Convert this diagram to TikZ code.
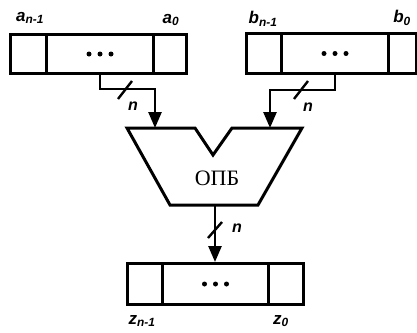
\documentclass[tikz,border=0pt]{standalone}
\usepackage{fontspec}
\setmainfont{Liberation Serif}
\setsansfont{Liberation Sans}
\usetikzlibrary{arrows.meta}
\begin{document}
\begin{tikzpicture}[x=1pt,y=-1pt,
  cell/.style={draw,line width=3pt,inner sep=0pt,anchor=north west},
  wire/.style={line width=2.6pt},
  arr/.style={wire,-{Triangle[width=13pt,length=16pt]}},
  slash/.style={line width=2.4pt},
  lbl/.style={font=\sffamily\bfseries\itshape\fontsize{17}{17}\selectfont,inner sep=0pt},
  nlbl/.style={font=\sffamily\bfseries\itshape\fontsize{16}{16}\selectfont,inner sep=0pt},
  dot/.style={fill,circle,inner sep=0pt,minimum size=5pt}]
\useasboundingbox (0,0) rectangle (417,332);
% register A
\node[cell,minimum width=36pt,minimum height=39pt] (A1) at (9,33) {};
\node[cell,minimum width=107pt,minimum height=39pt] (A2) at (45,33) {};
\node[cell,minimum width=33pt,minimum height=39pt] (A3) at (152,33) {};
\node[dot] (Ad1) at ([xshift=-11pt]A2.center) {};
\node[dot] (Ad2) at (A2.center) {};
\node[dot] (Ad3) at ([xshift=11pt]A2.center) {};
\node[lbl] (la1) at (30,18) {a\textsubscript{n-1}};
\node[lbl] (la0) at (171,20) {a\textsubscript{0}};
% register B
\node[cell,minimum width=35pt,minimum height=40pt] (B1) at (245,32) {};
\node[cell,minimum width=107pt,minimum height=40pt] (B2) at (280,32) {};
\node[cell,minimum width=28pt,minimum height=40pt] (B3) at (387,32) {};
\node[dot] (Bd1) at ([xshift=-11pt]B2.center) {};
\node[dot] (Bd2) at (B2.center) {};
\node[dot] (Bd3) at ([xshift=11pt]B2.center) {};
\node[lbl] (lb1) at (263,19) {b\textsubscript{n-1}};
\node[lbl] (lb0) at (402,18) {b\textsubscript{0}};
% register Z
\node[cell,minimum width=35pt,minimum height=41pt] (Z1) at (126,262) {};
\node[cell,minimum width=106pt,minimum height=41pt] (Z2) at (161,262) {};
\node[cell,minimum width=35pt,minimum height=41pt] (Z3) at (267,262) {};
\node[dot] (Zd1) at ([xshift=-11pt]Z2.center) {};
\node[dot] (Zd2) at (Z2.center) {};
\node[dot] (Zd3) at ([xshift=11pt]Z2.center) {};
\node[lbl] (lz1) at (142,321) {z\textsubscript{n-1}};
\node[lbl] (lz0) at (281,321) {z\textsubscript{0}};
% ALU
\draw[line width=3pt,line join=miter] (127,128) -- (195,128) -- (213,155) -- (232,128) -- (302,128) -- (258,205) -- (170,205) -- cycle;
\node[font=\fontsize{22}{22}\selectfont,inner sep=0pt] (ALU) at (217,178) {ОПБ};
\coordinate (inA) at (155,128);
\coordinate (inB) at (270,128);
\coordinate (out) at (215,205);
% connectors
\coordinate (ka) at (155,89);
\coordinate (kb) at (270,90);
\draw[arr] (A2.south) |- (ka) -- (inA);
\draw[arr] (B2.south) |- (kb) -- (inB);
\draw[arr] (out) -- (out |- Z2.north);
% slashes
\draw[slash] (118,99) -- (132,81);
\draw[slash] (294,99) -- (308,81);
\draw[slash] (208,238) -- (222,222);
\node[nlbl] (n1) at (133,106) {n};
\node[nlbl] (n2) at (308,107) {n};
\node[nlbl] (n3) at (237,228) {n};
\end{tikzpicture}
\end{document}
